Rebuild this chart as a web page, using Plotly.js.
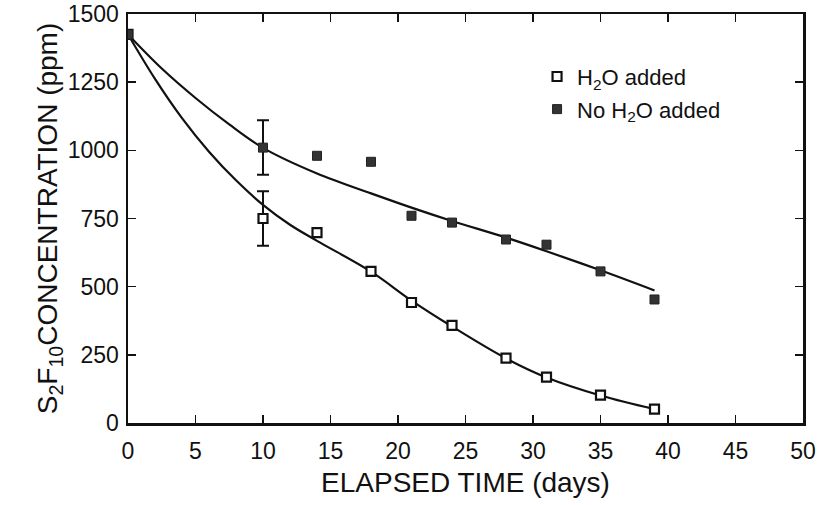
<!DOCTYPE html>
<html>
<head>
<meta charset="utf-8">
<script src="https://cdn.plot.ly/plotly-3.0.1.min.js"></script>
<style>html,body{margin:0;padding:0;background:#fff;}#chart{width:822px;height:505px;}</style>
</head>
<body>
<div id="chart"></div>
<script>
// Measured data (days, ppm)
const daysWater = [0, 10, 14, 18, 21, 24, 28, 31, 35, 39];
const ppmWater = [1425, 750, 698, 556, 442, 358, 238, 168, 102, 51];
const errWater = [0, 100, 0, 0, 0, 0, 0, 0, 0, 0];

const daysNoWater = [0, 10, 14, 18, 21, 24, 28, 31, 35, 39];
const ppmNoWater = [1425, 1010, 980, 958, 760, 735, 673, 654, 556, 453];
const errNoWater = [0, 100, 0, 0, 0, 0, 0, 0, 0, 0];

// Fitted curves
const fitWaterX = [0, 2, 4, 6, 8, 10, 12, 14, 18, 21, 24, 28, 31, 35, 39];
const fitWaterY = [1425, 1262, 1118, 995, 890, 800, 727, 668, 555, 449, 354, 237, 167, 101, 51];
const fitNoWaterX = [0, 2.5, 5, 7.5, 10, 14, 18, 21, 24, 28, 31, 35, 39];
const fitNoWaterY = [1425, 1300, 1192, 1095, 1009, 915, 842, 790, 741, 680, 630, 560, 486];

const xTicks = [0, 5, 10, 15, 20, 25, 30, 35, 40, 45, 50];
const yTicks = [0, 250, 500, 750, 1000, 1250, 1500];

const FONT = 'Liberation Sans, Arial, Helvetica, sans-serif';

// points that carry an error bar (taken from the data arrays)
function withErr(xs, ys, es) {
  const o = {x: [], y: [], e: []};
  es.forEach((e, i) => { if (e > 0) { o.x.push(xs[i]); o.y.push(ys[i]); o.e.push(e); } });
  return o;
}
const ew = withErr(daysWater, ppmWater, errWater);
const en = withErr(daysNoWater, ppmNoWater, errNoWater);

const traces = [
  {x: fitWaterX, y: fitWaterY, mode: 'lines', line: {color: '#111', width: 2.2, shape: 'spline', smoothing: 1}, showlegend: false, hoverinfo: 'skip'},
  {x: fitNoWaterX, y: fitNoWaterY, mode: 'lines', line: {color: '#111', width: 2.2, shape: 'spline', smoothing: 1}, showlegend: false, hoverinfo: 'skip'},
  {x: ew.x, y: ew.y, mode: 'markers', marker: {size: 1, opacity: 0}, showlegend: false, hoverinfo: 'skip',
   error_y: {type: 'data', array: ew.e, visible: true, color: '#111', thickness: 2, width: 6}},
  {x: en.x, y: en.y, mode: 'markers', marker: {size: 1, opacity: 0}, showlegend: false, hoverinfo: 'skip',
   error_y: {type: 'data', array: en.e, visible: true, color: '#111', thickness: 2, width: 6}},
  {x: daysWater, y: ppmWater, mode: 'markers', name: 'H<sub>2</sub>O added', legendgroup: 'a',
   marker: {symbol: 'square', size: 9, color: '#ffffff', line: {color: '#111', width: 2.2}}},
  {x: daysNoWater, y: ppmNoWater, mode: 'markers', name: 'No H<sub>2</sub>O added', legendgroup: 'b',
   marker: {symbol: 'square', size: 9, color: '#333333', line: {color: '#222', width: 1}}}
];

const layout = {
  width: 822, height: 505,
  margin: {l: 128, r: 19, t: 14, b: 82},
  paper_bgcolor: '#ffffff', plot_bgcolor: '#ffffff',
  font: {family: FONT, color: '#111', size: 23},
  showlegend: true,
  legend: {x: 0.606, y: 0.898, xanchor: 'left', yanchor: 'top', bgcolor: 'rgba(0,0,0,0)',
           font: {family: FONT, size: 22, color: '#111'}, traceorder: 'grouped', tracegroupgap: 1, itemwidth: 30},
  xaxis: {
    range: [0, 50], tickmode: 'array', tickvals: xTicks, ticktext: xTicks.map(String),
    ticks: 'inside', ticklen: 8, tickwidth: 1.5, tickcolor: '#111',
    showline: true, linecolor: '#111', linewidth: 2.5, mirror: 'ticks',
    showgrid: false, zeroline: false, ticklabelstandoff: 6,
    tickfont: {family: FONT, size: 23, color: '#111'},
    title: {text: 'ELAPSED TIME (days)', font: {family: FONT, size: 28, color: '#111'}, standoff: 10}
  },
  yaxis: {
    range: [0, 1500], tickmode: 'array', tickvals: yTicks, ticktext: yTicks.map(String),
    ticks: 'inside', ticklen: 8, tickwidth: 1.5, tickcolor: '#111',
    showline: true, linecolor: '#111', linewidth: 2.5, mirror: 'ticks',
    showgrid: false, zeroline: false, ticklabelstandoff: 2,
    tickfont: {family: FONT, size: 23, color: '#111'},
    title: {text: 'S<sub>2</sub>F<sub>10</sub>CONCENTRATION (ppm)', font: {family: FONT, size: 28, color: '#111'}, standoff: 2}
  }
};

Plotly.newPlot('chart', traces, layout, {displayModeBar: false, staticPlot: true});
</script>
</body>
</html>
